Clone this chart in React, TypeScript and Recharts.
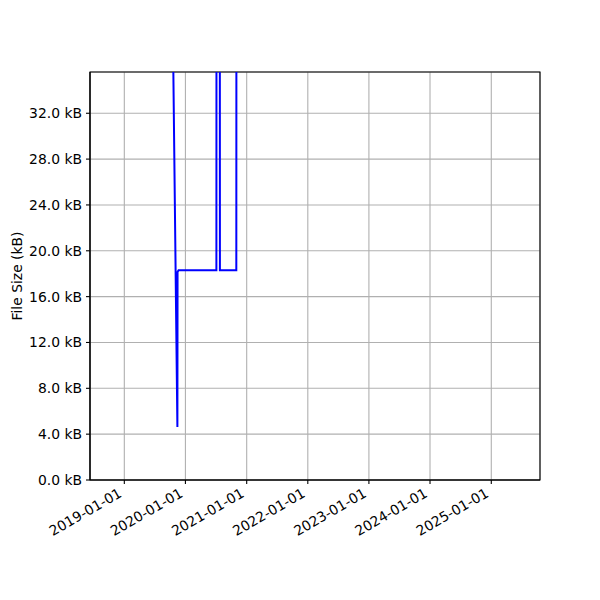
import React from 'react';
import { LineChart, Line, XAxis, YAxis, CartesianGrid, ReferenceArea } from 'recharts';

const dates = [
  '2019-10-19', '2019-11-14', '2019-11-15', '2019-11-21', '2020-07-04',
  '2020-07-05', '2020-07-24', '2020-07-25', '2020-10-31', '2020-11-01',
];
const sizesKB = [38, 4.62, 18.15, 18.3, 18.3, 60, 60, 18.3, 18.3, 60];

const xTickLabels = ['2019-01-01', '2020-01-01', '2021-01-01', '2022-01-01', '2023-01-01', '2024-01-01', '2025-01-01'];
const yTicks = [0, 4, 8, 12, 16, 20, 24, 28, 32];

const X_MIN = Date.parse('2018-06-10T00:00:00Z');
const X_MAX = Date.parse('2025-10-19T00:00:00Z');
const Y_MAX = 35.6;

const toTs = (d: string) => Date.parse(d + 'T00:00:00Z');
const data = dates.map((d, i) => ({ t: toTs(d), v: sizesKB[i] }));
const xTicks = xTickLabels.map(toTs);

const FONT = 'DejaVu Sans';
const FS = 13.9;

const XTick = (props: any) => {
  const { x, y, payload } = props;
  const d = new Date(payload.value);
  const label = d.toISOString().slice(0, 10);
  const x0 = x - 1.6;
  const y0 = y + 10;
  return (
    <text
      x={x0}
      y={y0}
      textAnchor="end"
      transform={`rotate(-30 ${x0} ${y0})`}
      fontFamily={FONT}
      fontSize={FS}
      fill="#000"
    >
      {label}
    </text>
  );
};

export default function App() {
  return (
    <div style={{ position: 'absolute', left: 0, top: 0, width: 600, height: 600, background: '#fff' }}>
      <LineChart
        width={600}
        height={600}
        data={data}
        margin={{ top: 72, right: 60, bottom: 0, left: 0 }}
      >
        <CartesianGrid stroke="#b0b0b0" strokeWidth={1.1} horizontal vertical />
        <XAxis
          dataKey="t"
          type="number"
          scale="linear"
          domain={[X_MIN, X_MAX]}
          allowDataOverflow
          ticks={xTicks}
          interval={0}
          height={120}
          tickSize={4}
          tickMargin={2}
          axisLine={{ stroke: '#000', strokeWidth: 1.1 }}
          tickLine={{ stroke: '#000', strokeWidth: 1.1 }}
          tick={<XTick />}
        />
        <YAxis
          type="number"
          domain={[0, Y_MAX]}
          allowDataOverflow
          ticks={yTicks}
          interval={0}
          width={90}
          tickSize={4}
          tickMargin={4}
          tickFormatter={(v: number) => `${v.toFixed(1)} kB`}
          axisLine={{ stroke: '#000', strokeWidth: 1.1 }}
          tickLine={{ stroke: '#000', strokeWidth: 1.1 }}
          tick={{ fill: '#000', fontFamily: FONT, fontSize: FS }}
          label={{
            content: () => (
              <text
                x={17}
                y={276}
                transform="rotate(-90 17 276)"
                textAnchor="middle"
                dominantBaseline="central"
                fontFamily={FONT}
                fontSize={FS}
                fill="#000"
              >
                File Size (kB)
              </text>
            ),
          }}
        />
        <ReferenceArea
          x1={X_MIN}
          x2={X_MAX}
          y1={0}
          y2={Y_MAX}
          fill="none"
          fillOpacity={0}
          stroke="#000"
          strokeWidth={1.1}
          ifOverflow="visible"
        />
        <Line
          type="linear"
          dataKey="v"
          stroke="#0000ff"
          strokeWidth={2}
          dot={false}
          activeDot={false}
          isAnimationActive={false}
        />
      </LineChart>
    </div>
  );
}
